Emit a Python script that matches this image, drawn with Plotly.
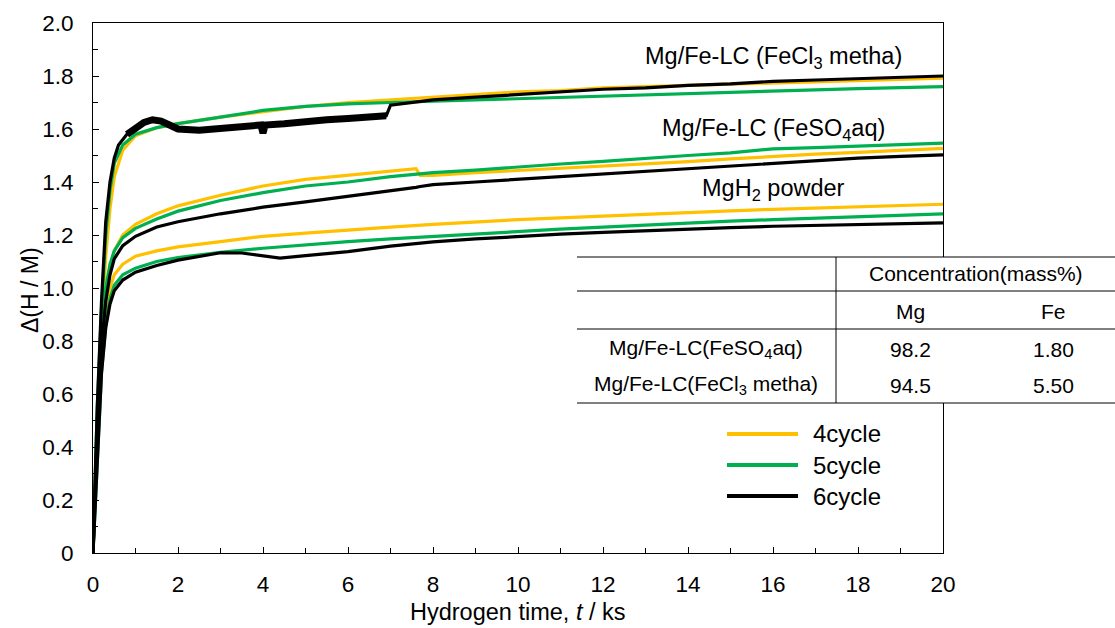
import plotly.graph_objects as go

# ---------------- data: hydrogen absorption curves ----------------
# Mg/Fe-LC prepared from FeCl3 in methanol
t_fecl3 = [0, 0.05, 0.1, 0.2, 0.3, 0.4, 0.5, 0.7, 1.0, 1.5, 2, 3, 4, 5, 6, 7,
           8, 9, 10, 11, 12, 13, 14, 15, 16, 17, 18, 19, 20]
fecl3_c4 = [0, 0.25, 0.5, 0.85, 1.12, 1.3, 1.42, 1.52, 1.575, 1.605, 1.62, 1.645,
            1.665, 1.685, 1.70, 1.71, 1.72, 1.73, 1.74, 1.745, 1.755, 1.76, 1.765,
            1.77, 1.775, 1.78, 1.785, 1.79, 1.792]
fecl3_c5 = [0, 0.3, 0.55, 0.92, 1.2, 1.37, 1.47, 1.54, 1.58, 1.605, 1.62, 1.645,
            1.67, 1.685, 1.695, 1.70, 1.705, 1.71, 1.715, 1.72, 1.725, 1.73, 1.735,
            1.74, 1.745, 1.748, 1.752, 1.755, 1.76]
t_fecl3_c6 = [0, 0.05, 0.1, 0.2, 0.3, 0.4, 0.5, 0.6, 0.8, 1.0, 1.2, 1.4, 1.6, 1.8,
              2.0, 2.5, 3.0, 3.5, 3.95, 4.0, 4.05, 4.5, 5.0, 5.5, 6.0, 6.5, 6.9,
              7.0, 7.5, 8, 9, 10, 11, 12, 13, 14, 15, 16, 17, 18, 19, 20]
fecl3_c6 = [0, 0.3, 0.55, 0.95, 1.25, 1.4, 1.49, 1.54, 1.58, 1.60, 1.625, 1.635,
            1.63, 1.615, 1.60, 1.595, 1.60, 1.61, 1.615, 1.585, 1.615, 1.62, 1.63,
            1.635, 1.64, 1.645, 1.65, 1.69, 1.70, 1.71, 1.72, 1.73, 1.74, 1.75,
            1.755, 1.765, 1.77, 1.78, 1.785, 1.79, 1.795, 1.80]
# noisy stretch of the 6th cycle (index range in t_fecl3_c6)
noisy_from, noisy_to = 8, 26

# Mg/Fe-LC prepared from aqueous FeSO4
t_feso4 = [0, 0.05, 0.1, 0.2, 0.3, 0.4, 0.5, 0.7, 1.0, 1.5, 2, 3, 4, 5, 6, 7, 7.6,
           7.7, 8, 9, 10, 11, 12, 13, 14, 15, 16, 17, 18, 19, 20]
feso4_c4 = [0, 0.25, 0.48, 0.8, 0.98, 1.08, 1.14, 1.2, 1.24, 1.28, 1.31, 1.35,
            1.385, 1.41, 1.425, 1.44, 1.45, 1.425, 1.425, 1.435, 1.443, 1.45,
            1.458, 1.467, 1.477, 1.487, 1.497, 1.505, 1.512, 1.52, 1.527]
feso4_c5 = [0, 0.25, 0.5, 0.82, 1.0, 1.09, 1.14, 1.19, 1.225, 1.26, 1.29, 1.33,
            1.36, 1.385, 1.40, 1.42, 1.43, 1.43, 1.435, 1.445, 1.458, 1.468, 1.478,
            1.49, 1.50, 1.51, 1.525, 1.53, 1.535, 1.54, 1.547]
feso4_c6 = [0, 0.22, 0.45, 0.78, 0.95, 1.05, 1.11, 1.16, 1.195, 1.23, 1.25, 1.28,
            1.305, 1.325, 1.345, 1.365, 1.38, 1.383, 1.39, 1.40, 1.41, 1.42, 1.433,
            1.443, 1.453, 1.463, 1.473, 1.482, 1.49, 1.497, 1.502]

# MgH2 powder
t_mgh2 = [0, 0.05, 0.1, 0.2, 0.3, 0.4, 0.5, 0.7, 1.0, 1.5, 2, 3, 4, 5, 6, 7, 8, 9,
          10, 11, 12, 13, 14, 15, 16, 17, 18, 19, 20]
mgh2_c4 = [0, 0.2, 0.42, 0.72, 0.9, 1.0, 1.05, 1.09, 1.12, 1.14, 1.155, 1.175,
           1.195, 1.207, 1.219, 1.23, 1.24, 1.25, 1.258, 1.265, 1.272, 1.279,
           1.285, 1.291, 1.297, 1.302, 1.307, 1.312, 1.316]
mgh2_c5 = [0, 0.18, 0.38, 0.68, 0.86, 0.96, 1.01, 1.05, 1.075, 1.10, 1.115, 1.135,
           1.15, 1.163, 1.175, 1.185, 1.195, 1.205, 1.213, 1.222, 1.23, 1.238,
           1.245, 1.252, 1.258, 1.264, 1.27, 1.275, 1.28]
t_mgh2_c6 = [0, 0.05, 0.1, 0.2, 0.3, 0.4, 0.5, 0.7, 1.0, 1.5, 2, 2.5, 3, 3.5, 4,
             4.4, 5, 6, 7, 8, 9, 10, 11, 12, 13, 14, 15, 16, 17, 18, 19, 20]
mgh2_c6 = [0, 0.18, 0.38, 0.68, 0.85, 0.94, 0.99, 1.03, 1.06, 1.085, 1.105, 1.12,
           1.133, 1.132, 1.12, 1.113, 1.122, 1.137, 1.158, 1.174, 1.185, 1.195,
           1.203, 1.21, 1.217, 1.223, 1.228, 1.233, 1.237, 1.24, 1.243, 1.246]

cycle_names = ["4cycle", "5cycle", "6cycle"]
cycle_colors = ["#FFC000", "#00B050", "#000000"]

sample_labels = ["Mg/Fe-LC (FeCl<sub>3</sub> metha)",
                 "Mg/Fe-LC (FeSO<sub>4</sub>aq)",
                 "MgH<sub>2</sub> powder"]
sample_label_y = [1.87, 1.60, 1.37]

# composition table
table_header = "Concentration(mass%)"
table_cols = ["Mg", "Fe"]
table_rows = ["Mg/Fe-LC(FeSO<sub>4</sub>aq)", "Mg/Fe-LC(FeCl<sub>3</sub> metha)"]
table_mg = ["98.2", "94.5"]
table_fe = ["1.80", "5.50"]

x_ticks = list(range(0, 21, 2))
y_ticks = [0, 0.2, 0.4, 0.6, 0.8, 1.0, 1.2, 1.4, 1.6, 1.8, 2.0]
y_ticktext = ["0", "0.2", "0.4", "0.6", "0.8", "1.0", "1.2", "1.4", "1.6", "1.8", "2.0"]

# ---------------- figure ----------------
W, H = 1115, 628
L, R, T, B = 93, 943, 23, 553  # plot area in pixels
FONT = "Liberation Sans, Arial, sans-serif"


def px(x):
    return (x - L) / (R - L)


def py(y):
    return (B - y) / (B - T)


def label(x, y, text, size, xanchor="center", **kw):
    return dict(x=px(x), y=py(y), xref="paper", yref="paper", text=text,
                showarrow=False, xanchor=xanchor, yanchor="middle",
                font=dict(size=size, color="#000"), **kw)


fig = go.Figure()

groups = [
    ([t_fecl3, t_fecl3, t_fecl3_c6], [fecl3_c4, fecl3_c5, fecl3_c6]),
    ([t_feso4, t_feso4, t_feso4], [feso4_c4, feso4_c5, feso4_c6]),
    ([t_mgh2, t_mgh2, t_mgh2_c6], [mgh2_c4, mgh2_c5, mgh2_c6]),
]
for ci in range(3):
    for ts, ys in groups:
        fig.add_trace(go.Scatter(x=ts[ci], y=ys[ci], mode="lines",
                                 line=dict(color=cycle_colors[ci], width=3.2),
                                 showlegend=False, hoverinfo="skip"))

# the 6th cycle of the FeCl3 sample is a dense noisy band
fig.add_trace(go.Scatter(x=t_fecl3_c6[noisy_from:noisy_to + 1],
                         y=fecl3_c6[noisy_from:noisy_to + 1], mode="lines",
                         line=dict(color="#000000", width=7),
                         showlegend=False, hoverinfo="skip"))

annotations = []
for text, yv in zip(sample_labels, sample_label_y):
    annotations.append(dict(x=16.0, y=yv, xref="x", yref="y", text=text,
                            showarrow=False, xanchor="center", yanchor="middle",
                            font=dict(size=23.5, color="#000")))

# axis titles
annotations.append(label(30, 290, "Δ(H / M)", 23, textangle=-90))
annotations.append(label(518, 612, "Hydrogen time, <i>t</i> / ks", 23.5))

shapes = []
# table box (white background hides the frame behind it)
tx0, tx1 = 577, 1115
row_lines = [257, 291, 329, 403]
shapes.append(dict(type="rect", xref="paper", yref="paper", x0=px(tx0), x1=px(tx1),
                   y0=py(row_lines[-1]), y1=py(row_lines[0]),
                   fillcolor="white", line=dict(width=0), layer="above"))
for yl in row_lines:
    shapes.append(dict(type="line", xref="paper", yref="paper", x0=px(tx0), x1=px(tx1),
                       y0=py(yl), y1=py(yl), line=dict(color="#000", width=1),
                       layer="above"))
shapes.append(dict(type="line", xref="paper", yref="paper", x0=px(836), x1=px(836),
                   y0=py(row_lines[0]), y1=py(row_lines[-1]),
                   line=dict(color="#000", width=1), layer="above"))

TS = 21
annotations.append(label(976, 273, table_header, TS))
col_x = [910, 1053]
for cx, ct in zip(col_x, table_cols):
    annotations.append(label(cx, 311, ct, TS))
row_y = [349, 385]
for ry, name, mg, fe in zip(row_y, table_rows, table_mg, table_fe):
    annotations.append(label(706, ry, name, TS))
    annotations.append(label(col_x[0], ry, mg, TS))
    annotations.append(label(col_x[1], ry, fe, TS))

# legend drawn as line samples with labels
leg_y = [434, 465, 496]
for ly, name, col in zip(leg_y, cycle_names, cycle_colors):
    shapes.append(dict(type="line", xref="paper", yref="paper", x0=px(727), x1=px(798),
                       y0=py(ly), y1=py(ly), line=dict(color=col, width=4)))
    annotations.append(label(811, ly, name, 24, xanchor="left"))

axis_common = dict(showgrid=False, zeroline=False, showline=True, linecolor="#000",
                   linewidth=1, mirror=True, ticks="inside", ticklen=6,
                   tickcolor="#000", tickwidth=1,
                   tickfont=dict(size=22.5, color="#000", family=FONT))

fig.update_layout(
    width=W, height=H,
    margin=dict(l=L, r=W - R, t=T, b=H - B, pad=0),
    paper_bgcolor="white", plot_bgcolor="white",
    font=dict(family=FONT, color="#000"),
    showlegend=False,
    xaxis=dict(range=[0, 20], tickvals=x_ticks, ticklabelstandoff=11,
               minor=dict(ticks="inside", ticklen=5, dtick=1, tickcolor="#000"),
               **axis_common),
    yaxis=dict(range=[0, 2.0], tickvals=y_ticks, ticktext=y_ticktext,
               ticklabelstandoff=14,
               minor=dict(ticks="inside", ticklen=5, dtick=0.1, tickcolor="#000"),
               **axis_common),
    annotations=annotations,
    shapes=shapes,
)

fig.write_html("out.html")
